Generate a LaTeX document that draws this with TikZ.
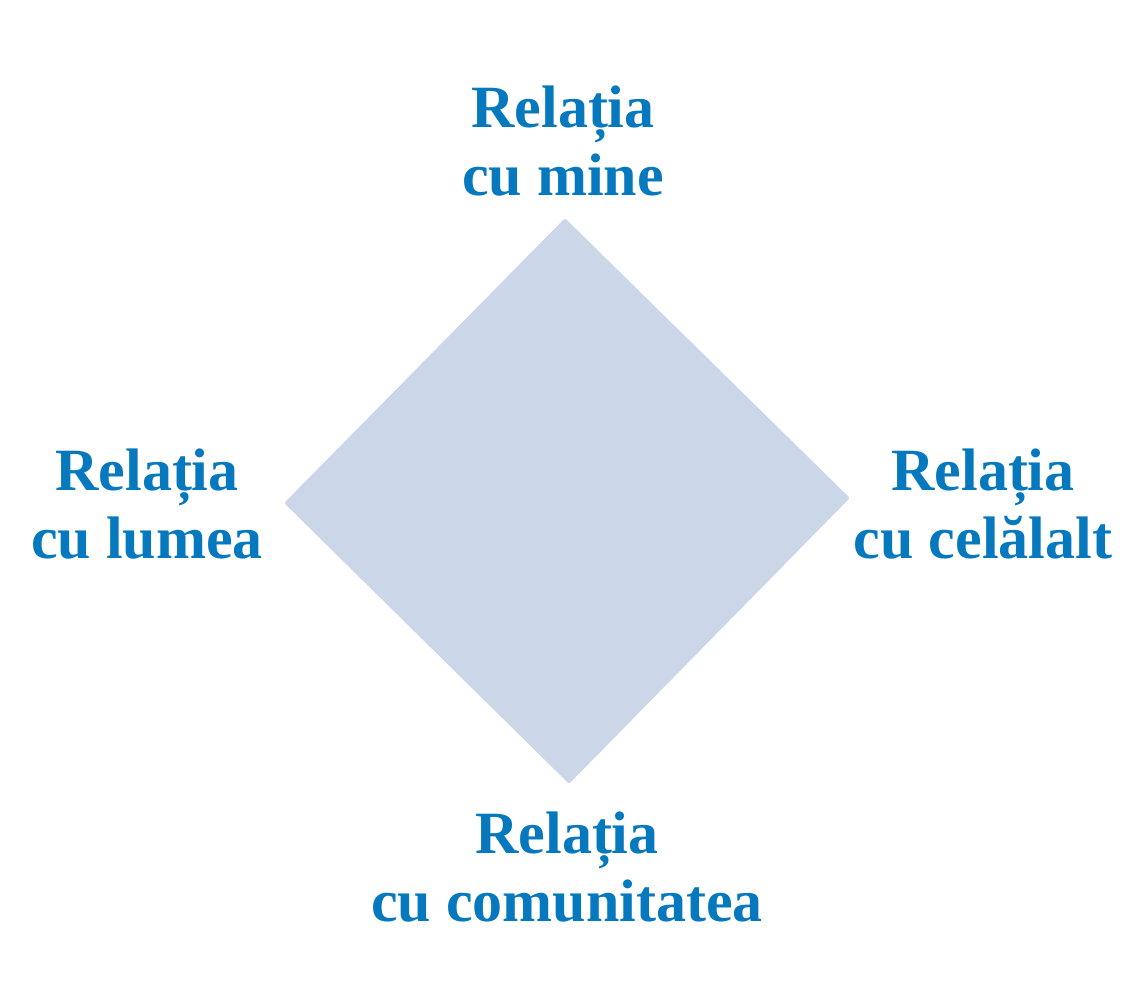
\documentclass[tikz,border=0pt]{standalone}
\usepackage{fontspec}
\setmainfont{Liberation Serif}
\definecolor{lbl}{HTML}{0679BE}
\definecolor{dia}{HTML}{CBD6E8}
\begin{document}
\begin{tikzpicture}[x=1pt,y=-1pt,
  lab/.style={text=lbl,font=\fontsize{60}{68}\selectfont\bfseries,align=center,inner sep=0pt}]
\useasboundingbox (0,0) rectangle (1134,1003);
\coordinate (t) at (565,221);
\coordinate (r) at (847,498);
\coordinate (b) at (569,781);
\coordinate (l) at (287,503);
\fill[dia,draw=dia,line width=4pt,line join=round] (t)--(r)--(b)--(l)--cycle;
\node[lab] (nt) at (563,141) {Relația\\cu mine};
\node[lab] (nl) at (147,504) {Relația\\cu lumea};
\node[lab] (nr) at (983,504) {Relația\\cu celălalt};
\node[lab] (nb) at (567,867) {Relația\\cu comunitatea};
\end{tikzpicture}
\end{document}
